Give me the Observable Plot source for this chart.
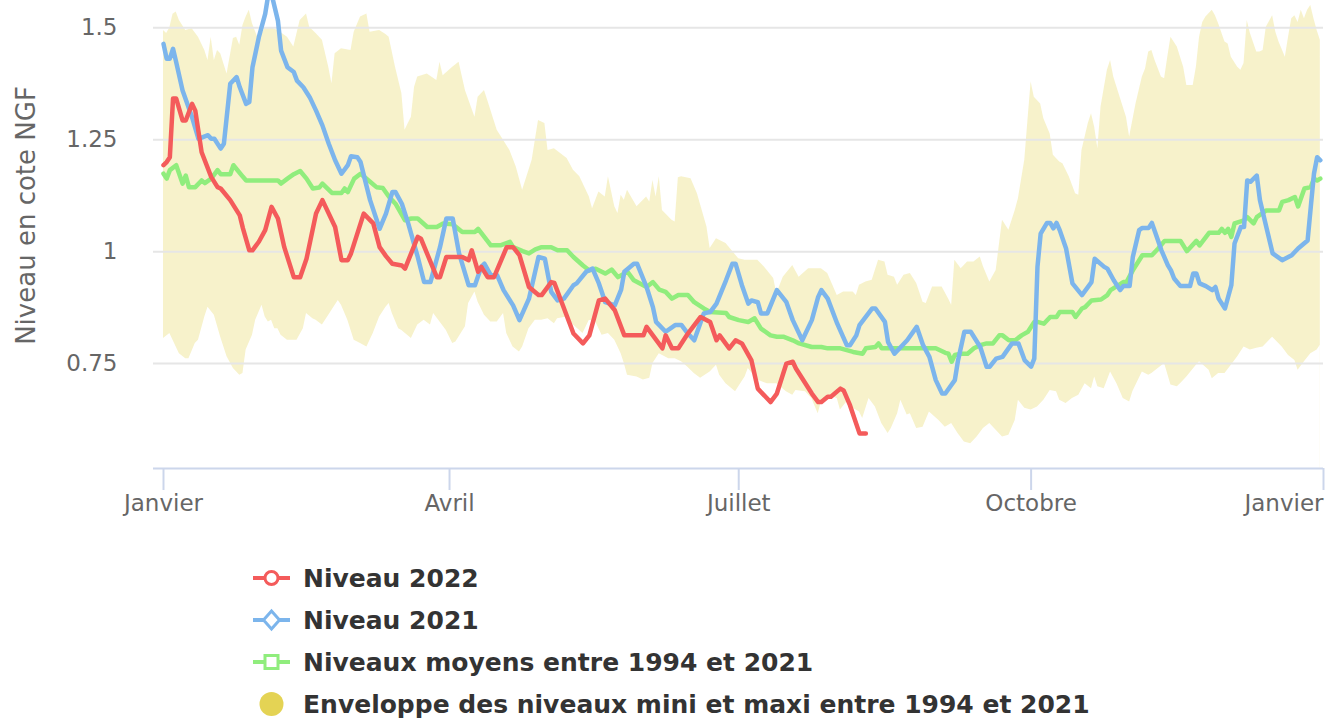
<!DOCTYPE html>
<html><head><meta charset="utf-8">
<script src="https://cdn.jsdelivr.net/npm/d3@7"></script>
<script src="https://cdn.jsdelivr.net/npm/@observablehq/plot@0.6"></script>
<style>
body{margin:0;background:#fff;font-family:"DejaVu Sans",sans-serif;}
#chart{width:1327px;height:530px;overflow:hidden}
#legend{padding-top:27px;margin-left:253px}
.row{display:flex;align-items:center;height:42px;font-weight:bold;font-size:25px;color:#333;white-space:nowrap}
.row svg{margin-right:13px;flex:none}
</style></head><body>
<div id="chart"></div>
<div id="legend"></div>
<script>
// Jour de l'année (0 = 1er janvier) et niveau en cote NGF
const niveau2022 = [[0,1.193],[1,1.200],[2,1.211],[3,1.342],[4,1.342],[6,1.293],[7,1.293],[9,1.330],[10,1.315],[12,1.222],[15,1.167],[17,1.144],[18,1.141],[21,1.115],[24,1.081],[25,1.052],[27,1.003],[28,1.003],[30,1.022],[32,1.048],[34,1.100],[36,1.074],[38,1.010],[41,0.943],[43,0.943],[45,0.984],[48,1.085],[50,1.115],[54,1.055],[56,0.981],[58,0.981],[59,0.996],[63,1.085],[66,1.063],[68,1.010],[70,0.990],[72,0.973],[75,0.969],[76,0.962],[80,1.033],[81,1.029],[86,0.943],[87,0.943],[89,0.988],[94,0.988],[96,0.981],[97,1.003],[99,0.955],[100,0.966],[102,0.943],[104,0.943],[108,1.010],[110,1.010],[112,0.992],[115,0.921],[118,0.903],[119,0.903],[122,0.932],[123,0.930],[129,0.817],[132,0.795],[134,0.813],[137,0.891],[139,0.895],[142,0.869],[145,0.813],[151,0.813],[152,0.832],[157,0.784],[158,0.813],[160,0.784],[162,0.784],[165,0.817],[169,0.854],[172,0.843],[174,0.802],[175,0.813],[178,0.784],[180,0.802],[182,0.795],[185,0.757],[187,0.694],[191,0.664],[193,0.683],[196,0.750],[198,0.754],[199,0.739],[204,0.683],[206,0.664],[207,0.664],[209,0.676],[210,0.676],[213,0.694],[214,0.690],[216,0.657],[219,0.594],[221,0.594]];

const niveau2021 = [[0,1.464],[1,1.431],[2,1.431],[3,1.453],[4,1.423],[6,1.360],[9,1.300],[11,1.252],[14,1.260],[15,1.252],[16,1.252],[18,1.230],[19,1.241],[21,1.375],[23,1.390],[24,1.367],[26,1.330],[27,1.334],[28,1.412],[30,1.479],[32,1.531],[33,1.575],[34,1.575],[36,1.516],[37,1.449],[39,1.412],[41,1.401],[42,1.382],[44,1.367],[46,1.345],[48,1.315],[50,1.282],[52,1.241],[54,1.204],[56,1.174],[58,1.193],[59,1.213],[61,1.211],[62,1.200],[65,1.115],[68,1.051],[70,1.085],[72,1.133],[73,1.133],[75,1.107],[77,1.063],[80,0.988],[82,0.932],[84,0.932],[87,1.010],[89,1.074],[91,1.074],[93,0.996],[96,0.925],[98,0.925],[100,0.966],[101,0.973],[103,0.947],[105,0.947],[107,0.914],[110,0.880],[112,0.847],[115,0.895],[118,0.988],[120,0.984],[122,0.910],[124,0.891],[126,0.895],[129,0.925],[130,0.929],[133,0.955],[135,0.962],[137,0.929],[139,0.887],[142,0.880],[144,0.915],[145,0.955],[148,0.973],[149,0.973],[152,0.921],[154,0.876],[155,0.843],[158,0.821],[161,0.836],[163,0.836],[165,0.817],[167,0.802],[170,0.862],[172,0.865],[174,0.884],[177,0.936],[179,0.973],[180,0.973],[182,0.925],[184,0.884],[185,0.891],[187,0.887],[188,0.862],[190,0.862],[193,0.914],[196,0.887],[198,0.847],[201,0.802],[204,0.847],[206,0.899],[207,0.914],[209,0.895],[212,0.839],[215,0.791],[216,0.791],[218,0.813],[219,0.836],[223,0.873],[224,0.873],[227,0.843],[228,0.798],[230,0.772],[234,0.802],[237,0.832],[239,0.791],[241,0.765],[243,0.713],[245,0.683],[246,0.683],[249,0.713],[250,0.757],[252,0.821],[254,0.821],[257,0.787],[259,0.743],[260,0.743],[262,0.761],[264,0.765],[267,0.795],[269,0.795],[271,0.757],[273,0.743],[274,0.761],[275,0.966],[276,1.040],[278,1.064],[279,1.064],[280,1.052],[281,1.064],[282,1.048],[284,1.007],[286,0.929],[289,0.903],[292,0.932],[293,0.984],[296,0.966],[297,0.962],[299,0.936],[301,0.914],[302,0.923],[304,0.923],[305,0.988],[307,1.048],[308,1.053],[310,1.053],[311,1.064],[312,1.044],[314,1.003],[316,0.970],[317,0.958],[318,0.940],[320,0.923],[323,0.923],[324,0.951],[325,0.951],[326,0.929],[328,0.923],[330,0.914],[331,0.921],[332,0.895],[334,0.873],[336,0.925],[337,1.018],[339,1.055],[340,1.055],[341,1.159],[342,1.156],[344,1.170],[345,1.115],[347,1.055],[349,0.996],[352,0.981],[355,0.992],[357,1.007],[360,1.025],[361,1.100],[362,1.174],[363,1.211],[364,1.204]];

const niveauxMoyens = [[0,1.174],[1,1.163],[2,1.182],[4,1.193],[6,1.152],[7,1.170],[8,1.144],[10,1.144],[12,1.159],[13,1.153],[15,1.163],[17,1.182],[18,1.173],[21,1.173],[22,1.193],[25,1.167],[26,1.159],[36,1.159],[37,1.152],[39,1.163],[41,1.173],[43,1.180],[45,1.163],[47,1.141],[49,1.143],[50,1.152],[53,1.131],[56,1.131],[57,1.141],[58,1.133],[60,1.163],[62,1.174],[65,1.156],[67,1.144],[69,1.142],[71,1.122],[73,1.107],[76,1.070],[78,1.074],[80,1.074],[83,1.055],[86,1.055],[88,1.063],[91,1.061],[94,1.044],[98,1.044],[99,1.051],[103,1.014],[106,1.014],[109,1.022],[110,1.010],[113,1.001],[115,0.996],[117,1.005],[119,1.010],[122,1.010],[124,1.003],[127,1.003],[129,0.988],[132,0.969],[134,0.958],[136,0.962],[139,0.951],[141,0.960],[143,0.943],[146,0.955],[148,0.936],[152,0.921],[154,0.932],[156,0.915],[158,0.910],[160,0.895],[162,0.903],[165,0.903],[167,0.887],[170,0.873],[172,0.865],[177,0.863],[178,0.854],[181,0.847],[184,0.843],[186,0.851],[188,0.828],[191,0.813],[193,0.810],[195,0.810],[198,0.802],[200,0.795],[204,0.787],[207,0.787],[209,0.784],[213,0.784],[217,0.776],[220,0.772],[221,0.784],[224,0.787],[225,0.795],[226,0.784],[243,0.784],[246,0.774],[247,0.772],[248,0.754],[249,0.769],[251,0.772],[253,0.772],[255,0.784],[257,0.791],[259,0.795],[261,0.795],[263,0.813],[264,0.813],[266,0.802],[268,0.802],[270,0.813],[272,0.821],[274,0.843],[275,0.843],[277,0.839],[279,0.854],[281,0.854],[282,0.865],[286,0.865],[287,0.854],[289,0.873],[290,0.876],[292,0.891],[295,0.893],[297,0.903],[298,0.914],[300,0.923],[302,0.932],[303,0.932],[305,0.958],[308,0.992],[311,0.992],[313,1.007],[315,1.024],[320,1.024],[322,1.001],[325,1.024],[326,1.014],[329,1.042],[332,1.042],[333,1.051],[334,1.042],[335,1.051],[336,1.033],[337,1.063],[340,1.070],[341,1.077],[343,1.063],[344,1.077],[347,1.092],[351,1.092],[352,1.111],[354,1.115],[356,1.122],[357,1.101],[359,1.141],[361,1.144],[362,1.163],[363,1.159],[364,1.163]];

const enveloppeMaxi = [[0,1.494],[1,1.487],[2,1.500],[3,1.530],[4,1.535],[5,1.516],[7,1.494],[9,1.498],[11,1.479],[13,1.449],[14,1.427],[15,1.479],[16,1.427],[17,1.449],[18,1.442],[20,1.397],[22,1.476],[23,1.479],[24,1.461],[25,1.505],[26,1.524],[27,1.539],[28,1.509],[30,1.472],[32,1.500],[34,1.500],[36,1.494],[39,1.479],[41,1.457],[43,1.516],[45,1.531],[46,1.501],[48,1.487],[50,1.472],[52,1.412],[53,1.375],[54,1.442],[56,1.453],[59,1.449],[60,1.490],[62,1.524],[64,1.531],[65,1.490],[68,1.494],[70,1.485],[71,1.479],[73,1.412],[75,1.353],[76,1.271],[78,1.300],[79,1.367],[80,1.390],[83,1.397],[86,1.382],[87,1.423],[88,1.393],[91,1.412],[93,1.423],[95,1.360],[98,1.300],[99,1.345],[101,1.360],[102,1.338],[105,1.271],[106,1.260],[109,1.226],[111,1.189],[113,1.137],[116,1.204],[118,1.293],[120,1.286],[121,1.226],[123,1.230],[127,1.208],[129,1.182],[131,1.167],[134,1.122],[135,1.096],[137,1.133],[139,1.122],[140,1.167],[142,1.100],[143,1.085],[144,1.126],[145,1.115],[146,1.137],[149,1.100],[152,1.122],[153,1.111],[154,1.159],[155,1.122],[156,1.167],[157,1.092],[160,1.070],[161,1.066],[162,1.165],[163,1.167],[166,1.163],[168,1.129],[171,1.055],[172,1.007],[174,1.029],[177,1.018],[181,0.984],[183,0.981],[187,0.981],[189,0.966],[192,0.940],[193,0.906],[195,0.943],[198,0.969],[200,0.943],[203,0.962],[207,0.962],[209,0.951],[212,0.902],[214,0.910],[217,0.910],[218,0.902],[219,0.925],[221,0.932],[223,0.936],[225,0.981],[227,0.977],[228,0.947],[230,0.943],[231,0.925],[233,0.947],[235,0.951],[237,0.929],[239,0.887],[240,0.884],[242,0.921],[245,0.921],[247,0.895],[248,0.880],[249,0.981],[251,0.962],[253,0.977],[255,0.977],[257,0.988],[258,0.966],[260,0.932],[262,0.958],[263,1.014],[264,1.070],[266,1.048],[268,1.092],[269,1.118],[271,1.204],[272,1.293],[273,1.379],[274,1.345],[276,1.330],[277,1.297],[279,1.263],[280,1.215],[282,1.200],[283,1.196],[285,1.167],[287,1.129],[288,1.126],[289,1.226],[291,1.286],[292,1.308],[293,1.278],[294,1.230],[295,1.323],[297,1.405],[298,1.427],[299,1.390],[301,1.345],[303,1.300],[304,1.256],[306,1.330],[308,1.390],[309,1.408],[310,1.446],[311,1.449],[312,1.427],[314,1.390],[315,1.386],[316,1.434],[317,1.479],[319,1.457],[320,1.434],[321,1.412],[322,1.371],[324,1.371],[325,1.412],[326,1.479],[327,1.512],[328,1.524],[330,1.539],[331,1.527],[332,1.509],[334,1.468],[335,1.464],[336,1.434],[338,1.412],[339,1.405],[340,1.420],[341,1.516],[342,1.487],[344,1.446],[345,1.446],[346,1.449],[347,1.501],[349,1.527],[350,1.490],[351,1.468],[353,1.434],[354,1.479],[355,1.520],[356,1.527],[357,1.512],[358,1.539],[359,1.520],[360,1.539],[361,1.550],[362,1.520],[363,1.494],[364,1.472]];

const enveloppeMini = [[0,0.806],[2,0.817],[3,0.802],[5,0.772],[7,0.761],[8,0.761],[10,0.795],[11,0.802],[13,0.854],[14,0.876],[16,0.858],[18,0.809],[20,0.765],[22,0.739],[24,0.724],[25,0.728],[26,0.780],[28,0.813],[29,0.847],[31,0.880],[32,0.854],[33,0.843],[34,0.847],[35,0.828],[36,0.828],[37,0.813],[39,0.802],[42,0.802],[44,0.828],[45,0.862],[47,0.850],[48,0.847],[50,0.836],[52,0.858],[55,0.891],[56,0.880],[58,0.847],[60,0.802],[62,0.795],[64,0.787],[66,0.817],[68,0.854],[70,0.876],[71,0.884],[72,0.862],[74,0.828],[75,0.824],[78,0.806],[80,0.836],[82,0.847],[84,0.836],[85,0.862],[87,0.843],[89,0.824],[91,0.795],[92,0.798],[95,0.832],[96,0.884],[98,0.910],[99,0.887],[101,0.858],[103,0.843],[105,0.843],[107,0.862],[108,0.817],[110,0.787],[112,0.776],[113,0.787],[115,0.828],[117,0.847],[119,0.847],[121,0.850],[123,0.839],[124,0.850],[127,0.854],[129,0.836],[132,0.817],[134,0.847],[136,0.843],[138,0.813],[140,0.817],[142,0.802],[144,0.772],[145,0.750],[146,0.724],[149,0.720],[151,0.713],[153,0.717],[154,0.750],[156,0.772],[159,0.761],[161,0.761],[163,0.754],[165,0.742],[167,0.728],[169,0.717],[172,0.731],[174,0.746],[175,0.724],[177,0.705],[180,0.687],[181,0.698],[183,0.720],[184,0.739],[187,0.713],[190,0.705],[193,0.705],[196,0.687],[198,0.679],[199,0.690],[202,0.687],[204,0.672],[206,0.638],[207,0.664],[209,0.679],[212,0.672],[213,0.646],[215,0.664],[217,0.650],[219,0.642],[220,0.627],[222,0.672],[224,0.653],[226,0.616],[228,0.594],[229,0.605],[231,0.638],[232,0.668],[234,0.635],[235,0.638],[237,0.605],[239,0.608],[241,0.642],[244,0.623],[246,0.608],[248,0.616],[250,0.594],[252,0.575],[254,0.571],[256,0.586],[258,0.605],[260,0.616],[262,0.601],[264,0.586],[266,0.590],[268,0.623],[269,0.668],[271,0.650],[273,0.646],[275,0.653],[277,0.668],[279,0.690],[281,0.687],[282,0.668],[284,0.661],[286,0.672],[288,0.679],[290,0.705],[292,0.694],[293,0.720],[294,0.698],[296,0.694],[298,0.731],[300,0.705],[302,0.672],[304,0.664],[305,0.687],[308,0.731],[310,0.724],[311,0.728],[313,0.739],[315,0.750],[317,0.702],[319,0.698],[320,0.705],[322,0.720],[325,0.746],[326,0.754],[329,0.735],[330,0.716],[332,0.728],[334,0.728],[336,0.746],[338,0.765],[340,0.787],[342,0.780],[344,0.784],[346,0.787],[349,0.809],[352,0.787],[354,0.768],[356,0.757],[357,0.735],[359,0.754],[361,0.772],[363,0.780],[364,0.791]];

const xTickDays = [0, 90, 181, 273, 365];
const xTickLabels = ["Janvier", "Avril", "Juillet", "Octobre", "Janvier"];
const yTicks = [0.75, 1, 1.25, 1.5];
const yDomain = [0.5156, 1.5609];
const yTitle = "Niveau en cote NGF";
const seriesNames = ["Niveau 2022", "Niveau 2021", "Niveaux moyens entre 1994 et 2021", "Enveloppe des niveaux mini et maxi entre 1994 et 2021"];
const colors = {rouge: "#f45b5b", bleu: "#7cb5ec", vert: "#90ed7d", jaune: "#e4d354"};

const toDate = d => new Date(Date.UTC(2021, 0, 1 + d));
const X = d => toDate(d[0]);
const Y = d => d[1];
const ticks = xTickDays.map((d, i) => ({date: toDate(d), label: xTickLabels[i], last: i === xTickDays.length - 1}));
const lineStyle = {strokeWidth: 4.5, strokeLinejoin: "round", strokeLinecap: "round", clip: true};

const chart = Plot.plot({
  width: 1327,
  height: 530,
  marginLeft: 153,
  marginRight: 4,
  marginTop: 0,
  marginBottom: 62,
  style: {fontFamily: "DejaVu Sans, sans-serif", fontSize: "23px", color: "#666666", background: "#fff"},
  x: {type: "utc", domain: [toDate(0), toDate(365)], insetLeft: 10, axis: null},
  y: {domain: yDomain, axis: null},
  marks: [
    Plot.areaY(enveloppeMaxi, {x: X, y1: yDomain[0], y2: Y, fill: colors.jaune, fillOpacity: 0.3}),
    Plot.areaY(enveloppeMini, {x: X, y1: yDomain[0], y2: Y, fill: "#ffffff"}),
    Plot.gridY(yTicks, {stroke: "#e6e6e6", strokeOpacity: 1, strokeWidth: 2}),
    Plot.ruleY([yDomain[0]], {stroke: "#ccd6eb", strokeWidth: 2}),
    Plot.axisX(ticks.map(t => t.date), {tickSize: 22, stroke: "#ccd6eb", strokeWidth: 2, tickFormat: () => ""}),
    Plot.text(ticks.filter(t => !t.last), {x: "date", text: "label", frameAnchor: "bottom", dy: 42, textAnchor: "middle", fill: "#666666", fontSize: 23}),
    Plot.text(ticks.filter(t => t.last), {x: "date", text: "label", frameAnchor: "bottom", dy: 42, textAnchor: "end", fill: "#666666", fontSize: 23}),
    Plot.axisY(yTicks, {tickSize: 0, tickPadding: 36, fill: "#666666", fontSize: 23, label: null, tickFormat: d => String(d)}),
    Plot.text([yTitle], {frameAnchor: "left", rotate: -90, dx: -127, dy: -19, textAnchor: "middle", fill: "#666666", fontSize: 26}),
    Plot.line(niveauxMoyens, {x: X, y: Y, stroke: colors.vert, ...lineStyle}),
    Plot.line(niveau2021, {x: X, y: Y, stroke: colors.bleu, ...lineStyle}),
    Plot.line(niveau2022, {x: X, y: Y, stroke: colors.rouge, ...lineStyle})
  ]
});
document.getElementById("chart").appendChild(chart);

const symbols = [
  `<line x1="0" y1="21" x2="37" y2="21" stroke="${colors.rouge}" stroke-width="4"/><circle cx="18.5" cy="21" r="6.5" fill="#fff" stroke="${colors.rouge}" stroke-width="3"/>`,
  `<line x1="0" y1="21" x2="37" y2="21" stroke="${colors.bleu}" stroke-width="4"/><path d="M18.5 12 L26.5 21 L18.5 30 L10.5 21 Z" fill="#fff" stroke="${colors.bleu}" stroke-width="3"/>`,
  `<line x1="0" y1="21" x2="37" y2="21" stroke="${colors.vert}" stroke-width="4"/><rect x="12" y="14.5" width="13" height="13" fill="#fff" stroke="${colors.vert}" stroke-width="3"/>`,
  `<circle cx="18.5" cy="21" r="12" fill="${colors.jaune}"/>`
];
const legend = document.getElementById("legend");
seriesNames.forEach((name, i) => {
  const row = document.createElement("div");
  row.className = "row";
  row.innerHTML = `<svg width="37" height="42">${symbols[i]}</svg><span>${name}</span>`;
  legend.appendChild(row);
});
</script>
</body></html>
